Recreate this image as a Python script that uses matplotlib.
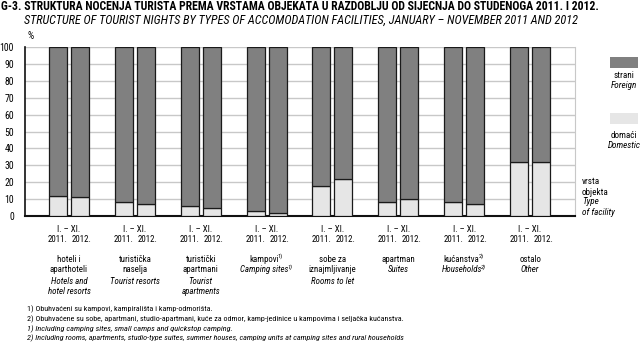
import matplotlib
matplotlib.use("Agg")
import matplotlib.pyplot as plt
from matplotlib.patches import Rectangle
from matplotlib import font_manager

# ---------------- data ----------------
categories_hr = ["hoteli i\naparthoteli", "turistička\nnaselja", "turistički\napartmani",
                 "kampovi", "sobe za\niznajmljivanje", "apartman", "kućanstva", "ostalo"]
categories_en = ["Hotels and\nhotel resorts", "Tourist resorts", "Tourist\napartments",
                 "Camping sites", "Rooms to let", "Suites", "Households", "Other"]
footnote_marks = ["", "", "", "1)", "", "", "2)", ""]
period = "I. – XI."
years = ["2011.", "2012."]
domestic_2011 = [12, 8, 6, 3, 18, 8, 8, 32]
domestic_2012 = [11, 7, 5, 2, 22, 10, 7, 32]
foreign_2011 = [100 - v for v in domestic_2011]
foreign_2012 = [100 - v for v in domestic_2012]
yticks = list(range(0, 101, 10))

# ---------------- fonts ----------------
ents = font_manager.fontManager.ttflist
def has(name, bold=False, italic=False):
    for f in ents:
        if f.name != name:
            continue
        w = f.weight if isinstance(f.weight, int) else (700 if 'bold' in str(f.weight) else 400)
        if bold and w < 700:
            continue
        if italic and f.style not in ('italic', 'oblique'):
            continue
        return True
    return False

prefs = ['Liberation Sans Narrow', 'Arial Narrow', 'Roboto Condensed', 'Archivo Narrow',
         'Open Sans Condensed', 'Barlow Semi Condensed', 'Asap Condensed', 'Liberation Sans']
FONT = next((p for p in prefs if has(p) and has(p, italic=True)), 'DejaVu Sans')
BOLDFONT = next((p for p in prefs if has(p, bold=True)), FONT)
plt.rcParams['font.family'] = [FONT, 'DejaVu Sans']

W, H = 642, 353
fig = plt.figure(figsize=(W / 100, H / 100), dpi=100)
fig.patch.set_facecolor('white')

def fx(px): return px / W
def fy(py): return 1 - py / H

ax = fig.add_axes([fx(25), fy(216), fx(575) - fx(25), fy(47) - fy(216)])
n = len(categories_hr)
xs = list(range(n))
off, bw = 0.167, 0.273
dark, light, edge = '#808080', '#e6e6e6', '#1a1a1a'
x1 = [x - off for x in xs]
x2 = [x + off for x in xs]
ax.bar(x1, domestic_2011, bw, color=light, edgecolor=edge, linewidth=0.9, zorder=3)
ax.bar(x1, foreign_2011, bw, bottom=domestic_2011, color=dark, edgecolor=edge, linewidth=0.9, zorder=3)
ax.bar(x2, domestic_2012, bw, color=light, edgecolor=edge, linewidth=0.9, zorder=3)
ax.bar(x2, foreign_2012, bw, bottom=domestic_2012, color=dark, edgecolor=edge, linewidth=0.9, zorder=3)

ax.set_xlim(-0.667, n - 1 + 0.682)
ax.set_ylim(0, 100)
ax.set_yticks(yticks)
ax.set_yticklabels([str(v) for v in yticks], fontsize=7)
ax.set_xticks([])
ax.tick_params(axis='y', length=0, pad=8)
for y in yticks[1:]:
    ax.axhline(y, color='#c8c8c8', lw=1, zorder=1)
ax.spines['top'].set_visible(False)
ax.spines['right'].set_color('#c8c8c8')
ax.spines['left'].set_color('#111111')
ax.spines['bottom'].set_color('#111111')
ax.spines['left'].set_linewidth(1.2)
ax.spines['bottom'].set_linewidth(1.5)

fig.canvas.draw()
r = fig.canvas.get_renderer()

cat_fs = 6.4
sup_fs = 4.6
for i in range(n):
    xc = ax.transData.transform((i, 0))[0]
    xa = ax.transData.transform((x1[i], 0))[0]
    xb = ax.transData.transform((x2[i], 0))[0]
    fig.text(xc / W, fy(229), period, ha='center', va='center', fontsize=cat_fs)
    fig.text(xa / W, fy(239), years[0], ha='center', va='center', fontsize=cat_fs)
    fig.text((xb + 2) / W, fy(239), years[1], ha='center', va='center', fontsize=cat_fs)
    lines = [(l, 'normal') for l in categories_hr[i].split("\n")] + \
            [(l, 'italic') for l in categories_en[i].split("\n")]
    hr_count = len(categories_hr[i].split("\n"))
    for k, (ln, st) in enumerate(lines):
        py = 259 + k * 11
        mark = footnote_marks[i]
        is_last = (k == hr_count - 1) or (k == len(lines) - 1)
        if mark and is_last:
            t = fig.text(0, fy(py), ln, ha='left', va='center', fontsize=cat_fs, style=st)
            s = fig.text(0, fy(py - 3), mark, ha='left', va='center', fontsize=sup_fs, style=st)
            wb = t.get_window_extent(r).width
            ws = s.get_window_extent(r).width
            left = xc - (wb + ws) / 2
            t.set_x(left / W)
            s.set_x((left + wb - 1.0) / W)
        else:
            fig.text(xc / W, fy(py), ln, ha='center', va='center', fontsize=cat_fs, style=st)

# titles
t_title = fig.text(fx(1), fy(6), "G-3. STRUKTURA NOĆENJA TURISTA PREMA VRSTAMA OBJEKATA U RAZDOBLJU OD SIJEČNJA DO STUDENOGA 2011. I 2012.",
                   fontsize=9, fontweight='bold', family=[BOLDFONT, 'DejaVu Sans'], ha='left', va='center')
t_sub = fig.text(fx(24), fy(20), "STRUCTURE OF TOURIST NIGHTS BY TYPES OF ACCOMODATION FACILITIES, JANUARY – NOVEMBER 2011 AND 2012",
                 fontsize=9, style='italic', ha='left', va='center')
fig.text(fx(27), fy(36), "%", fontsize=7, ha='left', va='center')

# legend
leg_fs = 6.6
fig.add_artist(Rectangle((fx(610), fy(68)), fx(28), fy(57) - fy(68), transform=fig.transFigure,
                         facecolor=dark, edgecolor='none'))
fig.text(fx(624), fy(75), "strani", fontsize=leg_fs, ha='center', va='center')
fig.text(fx(624), fy(85), "Foreign", fontsize=leg_fs, style='italic', ha='center', va='center')
fig.add_artist(Rectangle((fx(610), fy(124)), fx(28), fy(113) - fy(124), transform=fig.transFigure,
                         facecolor=light, edgecolor='none'))
fig.text(fx(624), fy(135), "domaći", fontsize=leg_fs, ha='center', va='center')
fig.text(fx(624), fy(145), "Domestic", fontsize=leg_fs, style='italic', ha='center', va='center')

fig.text(fx(582), fy(182), "vrsta", fontsize=leg_fs, ha='left', va='center')
fig.text(fx(582), fy(192), "objekta", fontsize=leg_fs, ha='left', va='center')
fig.text(fx(582), fy(202), "Type", fontsize=leg_fs, style='italic', ha='left', va='center')
fig.text(fx(582), fy(212), "of facility", fontsize=leg_fs, style='italic', ha='left', va='center')

# footnotes
f1 = fig.text(fx(27), fy(309), "1) Obuhvaćeni su kampovi, kampirališta i kamp-odmorišta.", fontsize=7, ha='left', va='center')
f2 = fig.text(fx(27), fy(319), "2) Obuhvaćene su sobe, apartmani, studio-apartmani, kuće za odmor, kamp-jedinice u kampovima i seljačka kućanstva.",
              fontsize=7, ha='left', va='center')
f3 = fig.text(fx(27), fy(329), "1) Including camping sites, small camps and quickstop camping.", fontsize=7, style='italic', ha='left', va='center')
f4 = fig.text(fx(27), fy(338), "2) Including rooms, apartments, studio-type suites, summer houses, camping units at camping sites and rural households",
              fontsize=7, style='italic', ha='left', va='center')

# fit the long texts to the widths they have in the reference
for t, x0, x1e in [(t_title, 1, 605), (t_sub, 24, 581), (f1, 27, 212), (f2, 27, 407), (f3, 27, 233), (f4, 27, 408)]:
    bb = t.get_window_extent(r)
    t.set_fontsize(t.get_fontsize() * (x1e - x0) / bb.width)

fig.savefig("out.png", dpi=100, facecolor='white')
